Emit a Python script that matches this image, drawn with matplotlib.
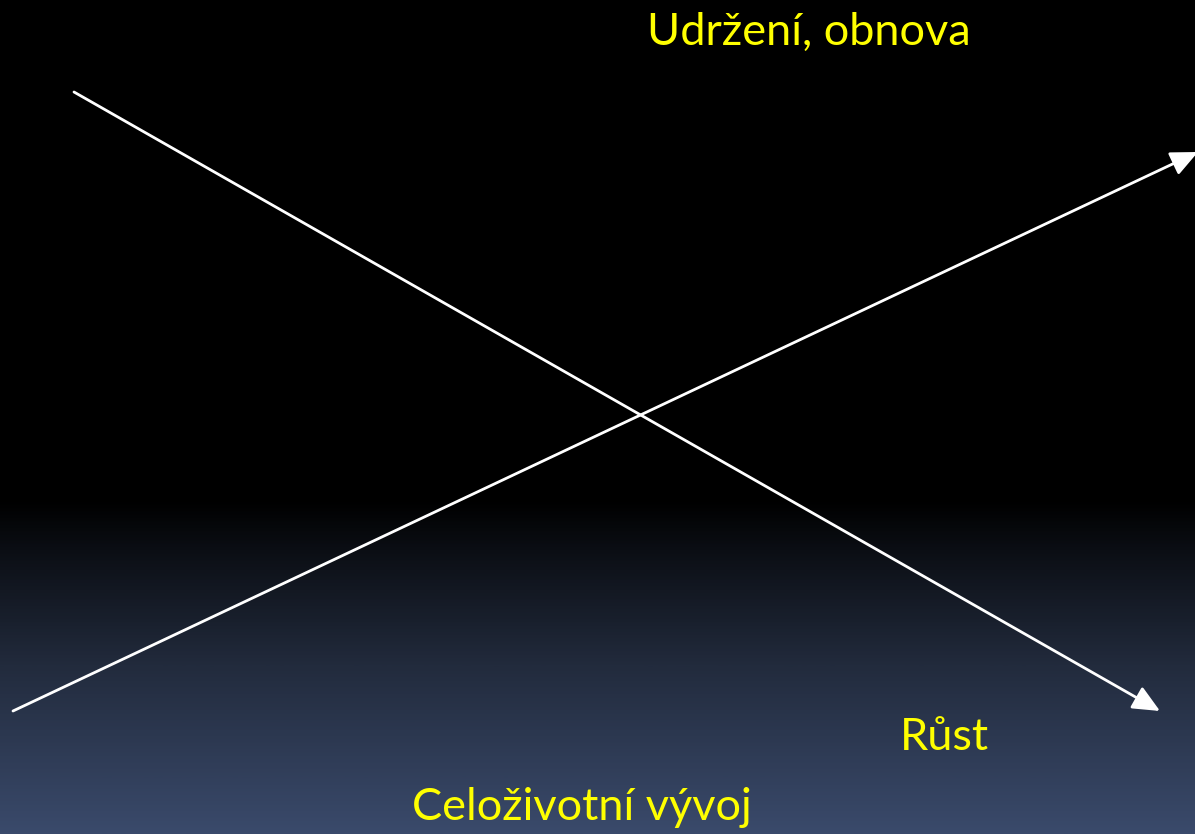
import numpy as np
import matplotlib
matplotlib.use("Agg")
import matplotlib.pyplot as plt
from matplotlib.colors import LinearSegmentedColormap

W, H = 1195, 834

# Diagram content
labels = ["Udržení, obnova", "Růst", "Celoživotní vývoj"]
label_xy = [(809, 32), (944, 737), (582, 807)]
arrow_starts = [(74, 92), (13, 711)]
arrow_ends = [(1160, 711), (1198, 152)]

fig = plt.figure(figsize=(W / 100, H / 100), dpi=100)
ax = fig.add_axes([0, 0, 1, 1])
ax.set_xlim(0, W)
ax.set_ylim(H, 0)
ax.axis("off")

# background gradient: black top, fading to slate blue at bottom
cmap = LinearSegmentedColormap.from_list(
    "bg", [(0.0, "#000000"), (0.60, "#000000"), (0.66, "#0b0e14"),
           (0.80, "#222b3d"), (1.0, "#3a4a6b")])
grad = np.linspace(0, 1, 512).reshape(-1, 1)
ax.imshow(grad, cmap=cmap, aspect="auto", extent=(0, W, H, 0), zorder=0)

for (x0, y0), (x1, y1) in zip(arrow_starts, arrow_ends):
    ax.annotate("", xy=(x1, y1), xytext=(x0, y0),
                arrowprops=dict(arrowstyle="-|>,head_length=1.1,head_width=0.5",
                                color="white", lw=2, shrinkA=0, shrinkB=0,
                                mutation_scale=15),
                annotation_clip=False, zorder=3)

for txt, (x, y) in zip(labels, label_xy):
    ax.text(x, y, txt, color="#ffff00", fontsize=32.5, family=["Lato", "DejaVu Sans"],
            ha="center", va="center", zorder=4)

fig.savefig("out.png", dpi=100, facecolor="black")
